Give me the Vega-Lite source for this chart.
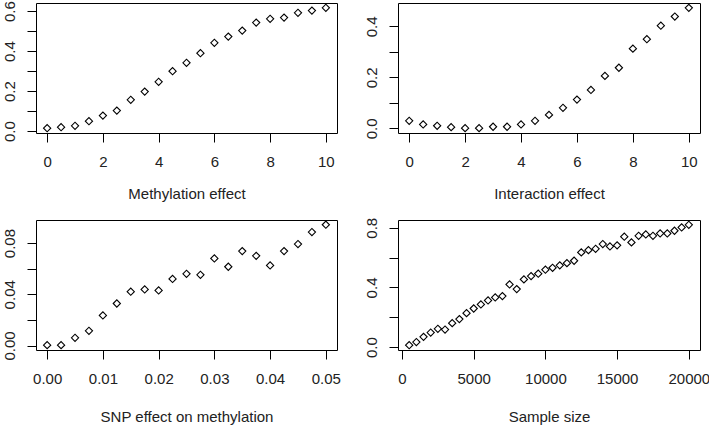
{
  "$schema": "https://vega.github.io/schema/vega-lite/v6.json",
  "padding": {"left": 1, "top": 0, "right": 0, "bottom": 0},
  "background": "white",
  "datasets": {
    "meth": [
      {"x": 0, "y": 0.015}, {"x": 0.5, "y": 0.02}, {"x": 1, "y": 0.027}, {"x": 1.5, "y": 0.05},
      {"x": 2, "y": 0.078}, {"x": 2.5, "y": 0.103}, {"x": 3, "y": 0.157}, {"x": 3.5, "y": 0.198},
      {"x": 4, "y": 0.247}, {"x": 4.5, "y": 0.3}, {"x": 5, "y": 0.342}, {"x": 5.5, "y": 0.39},
      {"x": 6, "y": 0.442}, {"x": 6.5, "y": 0.473}, {"x": 7, "y": 0.503}, {"x": 7.5, "y": 0.543},
      {"x": 8, "y": 0.562}, {"x": 8.5, "y": 0.568}, {"x": 9, "y": 0.592}, {"x": 9.5, "y": 0.603},
      {"x": 10, "y": 0.617}
    ],
    "inter": [
      {"x": 0, "y": 0.030}, {"x": 0.5, "y": 0.0156}, {"x": 1, "y": 0.0104}, {"x": 1.5, "y": 0.005},
      {"x": 2, "y": 0.001}, {"x": 2.5, "y": 0.001}, {"x": 3, "y": 0.0065}, {"x": 3.5, "y": 0.0065},
      {"x": 4, "y": 0.0156}, {"x": 4.5, "y": 0.030}, {"x": 5, "y": 0.053}, {"x": 5.5, "y": 0.081},
      {"x": 6, "y": 0.113}, {"x": 6.5, "y": 0.151}, {"x": 7, "y": 0.206}, {"x": 7.5, "y": 0.238},
      {"x": 8, "y": 0.313}, {"x": 8.5, "y": 0.350}, {"x": 9, "y": 0.403}, {"x": 9.5, "y": 0.439},
      {"x": 10, "y": 0.473}
    ],
    "snp": [
      {"x": 0, "y": 0.0003}, {"x": 0.0025, "y": 0.0003}, {"x": 0.005, "y": 0.006}, {"x": 0.0075, "y": 0.0115},
      {"x": 0.01, "y": 0.0235}, {"x": 0.0125, "y": 0.0328}, {"x": 0.015, "y": 0.042}, {"x": 0.0175, "y": 0.0438},
      {"x": 0.02, "y": 0.043}, {"x": 0.0225, "y": 0.052}, {"x": 0.025, "y": 0.056}, {"x": 0.0275, "y": 0.0552},
      {"x": 0.03, "y": 0.068}, {"x": 0.0325, "y": 0.0615}, {"x": 0.035, "y": 0.0737}, {"x": 0.0375, "y": 0.070},
      {"x": 0.04, "y": 0.0625}, {"x": 0.0425, "y": 0.0737}, {"x": 0.045, "y": 0.0792}, {"x": 0.0475, "y": 0.0886},
      {"x": 0.05, "y": 0.0943}
    ],
    "size": [
      {"x": 500, "y": 0.013}, {"x": 1000, "y": 0.034}, {"x": 1500, "y": 0.069}, {"x": 2000, "y": 0.098},
      {"x": 2500, "y": 0.123}, {"x": 3000, "y": 0.118}, {"x": 3500, "y": 0.161}, {"x": 4000, "y": 0.188},
      {"x": 4500, "y": 0.228}, {"x": 5000, "y": 0.259}, {"x": 5500, "y": 0.286}, {"x": 6000, "y": 0.313},
      {"x": 6500, "y": 0.333}, {"x": 7000, "y": 0.342}, {"x": 7500, "y": 0.420}, {"x": 8000, "y": 0.389},
      {"x": 8500, "y": 0.454}, {"x": 9000, "y": 0.476}, {"x": 9500, "y": 0.492}, {"x": 10000, "y": 0.519},
      {"x": 10500, "y": 0.532}, {"x": 11000, "y": 0.548}, {"x": 11500, "y": 0.563}, {"x": 12000, "y": 0.579},
      {"x": 12500, "y": 0.635}, {"x": 13000, "y": 0.650}, {"x": 13500, "y": 0.659}, {"x": 14000, "y": 0.691},
      {"x": 14500, "y": 0.675}, {"x": 15000, "y": 0.682}, {"x": 15500, "y": 0.740}, {"x": 16000, "y": 0.702},
      {"x": 16500, "y": 0.746}, {"x": 17000, "y": 0.755}, {"x": 17500, "y": 0.746}, {"x": 18000, "y": 0.762},
      {"x": 18500, "y": 0.762}, {"x": 19000, "y": 0.780}, {"x": 19500, "y": 0.802}, {"x": 20000, "y": 0.820}
    ]
  },
  "config": {
    "view": {"stroke": "#000", "strokeWidth": 1},
    "font": "Liberation Sans",
    "axis": {
      "grid": false, "domain": false, "tickColor": "#000", "tickSize": 9, "tickWidth": 1,
      "labelFontSize": 15, "labelColor": "#222", "labelFlush": false, "labelOverlap": false,
      "titleFontSize": 15, "titleFontWeight": "normal", "titleColor": "#222",
      "labelPadding": 12, "titlePadding": 16
    },
    "axisY": {"labelAngle": -90, "labelAlign": "center", "labelBaseline": "bottom", "labelPadding": 10},
    "point": {"shape": "diamond", "filled": false, "stroke": "#000", "strokeWidth": 1.1, "size": 52, "opacity": 1}
  },
  "columns": 2,
  "bounds": "flush",
  "spacing": {"row": 87, "column": 61},
  "concat": [
    {
      "width": 301, "height": 130,
      "data": {"name": "meth"},
      "mark": "point",
      "encoding": {
        "x": {"field": "x", "type": "quantitative", "title": "Methylation effect",
              "scale": {"domain": [-0.4, 10.4], "nice": false, "zero": false},
              "axis": {"values": [0, 2, 4, 6, 8, 10], "titlePadding": 17}},
        "y": {"field": "y", "type": "quantitative", "title": null,
              "scale": {"domain": [-0.009, 0.641], "nice": false, "zero": false},
              "axis": {"values": [0, 0.1, 0.2, 0.3, 0.4, 0.5, 0.6],
                       "labelExpr": "round(datum.value*10)%2==0 ? format(datum.value,'.1f') : ''"}}
      }
    },
    {
      "width": 302, "height": 130,
      "data": {"name": "inter"},
      "mark": "point",
      "encoding": {
        "x": {"field": "x", "type": "quantitative", "title": "Interaction effect",
              "scale": {"domain": [-0.4, 10.4], "nice": false, "zero": false},
              "axis": {"values": [0, 2, 4, 6, 8, 10], "titlePadding": 17}},
        "y": {"field": "y", "type": "quantitative", "title": null,
              "scale": {"domain": [-0.018, 0.492], "nice": false, "zero": false},
              "axis": {"values": [0, 0.1, 0.2, 0.3, 0.4],
                       "labelExpr": "round(datum.value*10)%2==0 ? format(datum.value,'.1f') : ''"}}
      }
    },
    {
      "width": 301, "height": 130,
      "data": {"name": "snp"},
      "mark": "point",
      "encoding": {
        "x": {"field": "x", "type": "quantitative", "title": "SNP effect on methylation",
              "scale": {"domain": [-0.002, 0.052], "nice": false, "zero": false},
              "axis": {"values": [0, 0.01, 0.02, 0.03, 0.04, 0.05], "format": ".2f", "titlePadding": 23}},
        "y": {"field": "y", "type": "quantitative", "title": null,
              "scale": {"domain": [-0.0035, 0.098], "nice": false, "zero": false},
              "axis": {"values": [0, 0.02, 0.04, 0.06, 0.08],
                       "labelExpr": "round(datum.value*100)%4==0 ? format(datum.value,'.2f') : ''"}}
      }
    },
    {
      "width": 302, "height": 130,
      "data": {"name": "size"},
      "mark": "point",
      "encoding": {
        "x": {"field": "x", "type": "quantitative", "title": "Sample size",
              "scale": {"domain": [-280, 20780], "nice": false, "zero": false},
              "axis": {"values": [0, 5000, 10000, 15000, 20000], "format": "d", "titlePadding": 23}},
        "y": {"field": "y", "type": "quantitative", "title": null,
              "scale": {"domain": [-0.019, 0.852], "nice": false, "zero": false},
              "axis": {"values": [0, 0.2, 0.4, 0.6, 0.8],
                       "labelExpr": "round(datum.value*10)%4==0 ? format(datum.value,'.1f') : ''"}}
      }
    }
  ]
}
